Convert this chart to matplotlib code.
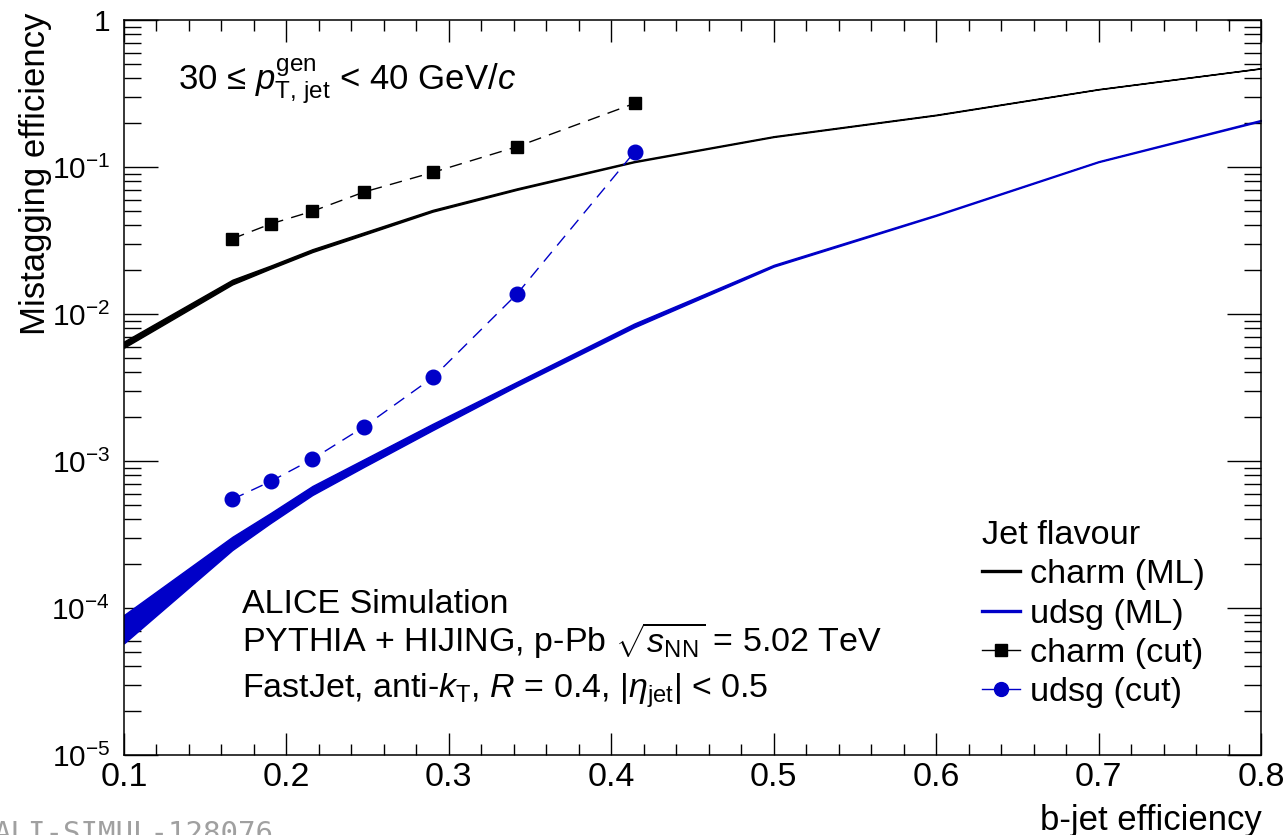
import numpy as np
import matplotlib.pyplot as plt
from matplotlib.lines import Line2D
from matplotlib.ticker import MultipleLocator, LogLocator, NullFormatter, FuncFormatter

plt.rcParams['font.family'] = ['Liberation Sans', 'DejaVu Sans']
plt.rcParams['mathtext.fontset'] = 'custom'
plt.rcParams['mathtext.rm'] = 'Liberation Sans'
plt.rcParams['mathtext.it'] = 'Liberation Sans:italic'
plt.rcParams['mathtext.bf'] = 'Liberation Sans:bold'

# ML working points (b-jet efficiency) and mistag bands
eff_ml = [0.1, 0.1667, 0.19, 0.216, 0.248, 0.29, 0.342, 0.414, 0.5, 0.6, 0.7, 0.8]
charm_ml_lo = [5.9e-3, 0.0159, 0.0203, 0.0264, 0.0347, 0.0497, 0.0700, 0.1078, 0.160, 0.225, 0.337, 0.468]
charm_ml_hi = [6.5e-3, 0.0171, 0.0213, 0.0276, 0.0360, 0.0511, 0.0716, 0.1096, 0.162, 0.227, 0.339, 0.470]
udsg_ml_lo = [5.75e-5, 2.48e-4, 3.77e-4, 5.87e-4, 9.15e-4, 1.62e-3, 3.24e-3, 8.1e-3, 0.0210, 0.0466, 0.1080, 0.205]
udsg_ml_hi = [8.96e-5, 3.05e-4, 4.41e-4, 6.76e-4, 1.03e-3, 1.79e-3, 3.46e-3, 8.6e-3, 0.0216, 0.0474, 0.1095, 0.209]

# cut-based working points
eff_cut = [0.1667, 0.1903, 0.216, 0.2478, 0.2903, 0.342, 0.4144]
charm_cut = [0.0325, 0.0410, 0.0500, 0.0676, 0.0920, 0.1375, 0.271]
udsg_cut = [5.49e-4, 7.27e-4, 1.03e-3, 1.71e-3, 3.71e-3, 0.0137, 0.127]

labels = ['charm (ML)', 'udsg (ML)', 'charm (cut)', 'udsg (cut)']
blue = '#0000c8'

fig = plt.figure(figsize=(12.86, 8.35), dpi=100)
ax = fig.add_axes([124 / 1286, 80 / 835, 1137 / 1286, 735 / 835])

# ML bands
ax.fill_between(eff_ml, charm_ml_lo, charm_ml_hi, color='k', lw=1.0, zorder=2)
ax.fill_between(eff_ml, udsg_ml_lo, udsg_ml_hi, color=blue, lw=1.0, zorder=2)

# cut-based points
ax.plot(eff_cut, charm_cut, color='k', lw=1.0, ls=(0, (9, 6)), marker='s', ms=9, zorder=3)
ax.plot(eff_cut, udsg_cut, color=blue, lw=1.0, ls=(0, (9, 6)), marker='o', ms=10.5, zorder=3)

ax.set_xlim(0.1, 0.8)
ax.set_yscale('log')
ax.set_ylim(1e-5, 1)

ax.xaxis.set_major_locator(MultipleLocator(0.1))
ax.xaxis.set_minor_locator(MultipleLocator(0.02))
ax.xaxis.set_major_formatter(FuncFormatter(lambda v, p: f'{v:.1f}'))
ax.yaxis.set_major_locator(LogLocator(base=10, numticks=10))
ax.yaxis.set_minor_locator(LogLocator(base=10, subs=np.arange(2, 10), numticks=20))
ax.yaxis.set_minor_formatter(NullFormatter())


def yfmt(v, pos):
    e = int(round(np.log10(v)))
    return '1' if e == 0 else r'$10^{%d}$' % e


ax.yaxis.set_major_formatter(FuncFormatter(yfmt))

ax.tick_params(which='both', direction='in', top=True, right=True, width=1.0)
ax.tick_params(axis='x', which='major', length=15.8, pad=5, labelsize=24.5)
ax.tick_params(axis='x', which='minor', length=7.9)
ax.tick_params(axis='y', which='major', length=24.5, pad=10, labelsize=21.5)
ax.tick_params(axis='y', which='minor', length=12.2)
for s in ax.spines.values():
    s.set_linewidth(1.1)

# axis titles
ax.text(1.0009, -0.102, 'b-jet efficiency', transform=ax.transAxes,
        ha='right', va='baseline', fontsize=25)
ax.text(-0.0775, 1.0095, 'Mistagging efficiency', transform=ax.transAxes,
        rotation=90, ha='center', va='top', fontsize=25)

# annotations
ax.text(0.0475, 0.9048, r'30 ≤ $p_{\mathrm{T,\,jet}}^{\mathrm{gen}}$ < 40 GeV/$c$',
        transform=ax.transAxes, ha='left', va='baseline', fontsize=25)
ax.text(0.1038, 0.1932, 'ALICE Simulation', transform=ax.transAxes,
        ha='left', va='baseline', fontsize=24.5)
ax.text(0.1038, 0.1401, r'PYTHIA + HIJING, p-Pb $\sqrt{s_{\mathrm{NN}}}$ = 5.02 TeV',
        transform=ax.transAxes, ha='left', va='baseline', fontsize=24.5)
ax.text(0.1038, 0.0776, r'FastJet, anti-$k_{\mathrm{T}}$, $R$ = 0.4, $|\eta_{\mathrm{jet}}|$ < 0.5',
        transform=ax.transAxes, ha='left', va='baseline', fontsize=24.5)

# legend
handles = [
    Line2D([], [], color='k', lw=2.4),
    Line2D([], [], color=blue, lw=2.4),
    Line2D([], [], color='k', lw=1.0, marker='s', ms=8),
    Line2D([], [], color=blue, lw=1.0, marker='o', ms=10),
]
ax.legend(handles, labels, title='Jet flavour', loc='upper left',
          bbox_to_anchor=(0.7546, 0.3197), frameon=False, fontsize=24.7,
          title_fontsize=24.7, alignment='left', handlelength=1.1,
          handletextpad=0.3, labelspacing=0.24, borderpad=0, borderaxespad=0)

# figure id watermark
fig.text(-0.005, -0.008, 'ALI-SIMUL-128076', family='DejaVu Sans Mono',
         color='#a0a0a0', fontsize=21, ha='left', va='baseline')

fig.savefig('out.png', dpi=100)
